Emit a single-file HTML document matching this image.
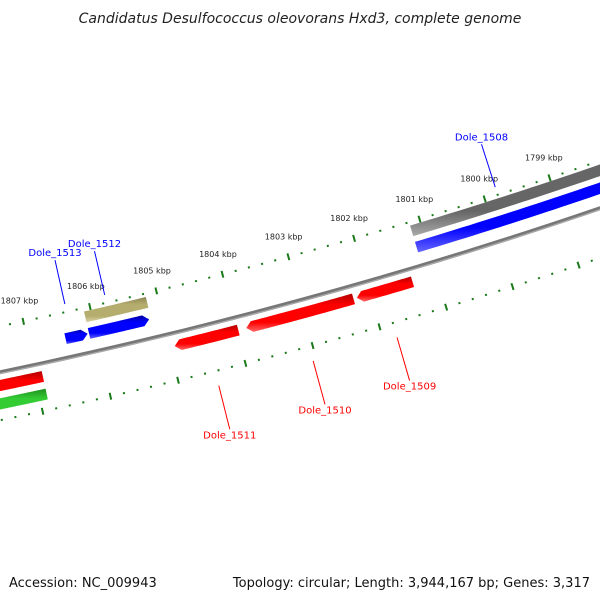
<!DOCTYPE html>
<html><head><meta charset="utf-8"><style>
body{margin:0;background:#fff}
svg{display:block;font-family:"DejaVu Sans","Liberation Sans",sans-serif}
</style></head><body>
<svg id="c" width="600" height="600" viewBox="0 0 600 600">
<defs>
<linearGradient id="gRed" x1="0" y1="0" x2="0" y2="1"><stop offset="0" stop-color="#b00000"/><stop offset="0.3" stop-color="#ff0000"/><stop offset="0.75" stop-color="#ff0000"/><stop offset="1" stop-color="#ff6666"/></linearGradient>
<linearGradient id="gBlue" x1="0" y1="0" x2="0" y2="1"><stop offset="0" stop-color="#0000a0"/><stop offset="0.3" stop-color="#0000ff"/><stop offset="0.75" stop-color="#0000ff"/><stop offset="1" stop-color="#6666ff"/></linearGradient>
<linearGradient id="gGreen" x1="0" y1="0" x2="0" y2="1"><stop offset="0" stop-color="#1f8f1f"/><stop offset="0.3" stop-color="#33cc33"/><stop offset="0.75" stop-color="#33cc33"/><stop offset="1" stop-color="#88e088"/></linearGradient>
<linearGradient id="gKhaki" x1="0" y1="0" x2="0" y2="1"><stop offset="0" stop-color="#8a8450"/><stop offset="0.3" stop-color="#b5ad6e"/><stop offset="0.75" stop-color="#b5ad6e"/><stop offset="1" stop-color="#d8d3a6"/></linearGradient>
<linearGradient id="gGray" x1="0" y1="0" x2="0" y2="1"><stop offset="0" stop-color="#444"/><stop offset="0.3" stop-color="#666"/><stop offset="0.75" stop-color="#666"/><stop offset="1" stop-color="#aaa"/></linearGradient>
</defs>
<text x="300" y="23" text-anchor="middle" font-size="14" font-style="italic" fill="#222">Candidatus Desulfococcus oleovorans Hxd3, complete genome</text>
<g id="ticks"></g><g id="bb"></g><g id="feat"></g><g id="lbl"></g>
<text x="9" y="587" font-size="13" fill="#111">Accession: NC_009943</text>
<text x="590" y="587" text-anchor="end" font-size="13" fill="#111">Topology: circular; Length: 3,944,167 bp; Genes: 3,317</text>
</svg>
<script>
const tickKbp=[1799,1800,1801,1802,1803,1804,1805,1806,1807];
const tickLabels=["1799 kbp","1800 kbp","1801 kbp","1802 kbp","1803 kbp","1804 kbp","1805 kbp","1806 kbp","1807 kbp"];
const featStart=[1806.45,1806.1,1806.1,1801.16,1801.16,1804.93,1803.86,1802.2,1808.5,1808.5];
const featEnd=[1806.12,1805.2,1805.17,1797.0,1797.0,1803.98,1802.25,1801.36,1806.89,1806.89];
const featTrack=["fwd","fwd","fwd2","fwd2","fwd","rev","rev","rev","rev","rev2"];
const featColor=["gBlue","gBlue","gKhaki","gGray","gBlue","gRed","gRed","gRed","gRed","gGreen"];
const featArrow=["right","right","none","none","none","left","left","left","none","none"];
const geneNames=["Dole_1513","Dole_1512","Dole_1508","Dole_1511","Dole_1510","Dole_1509"];
const genePos=[1806.35,1805.75,1799.8,1804.45,1803.05,1801.8];
const geneSide=["out","out","out","in","in","in"];
const geneColor=["#0000ff","#0000ff","#0000ff","#ff0000","#ff0000","#ff0000"];
const NS="http://www.w3.org/2000/svg";
const cx=-1020,cy=-4541,R=5018;
const trackR={fwd:4999,fwd2:4982,rev:5031,rev2:5049};
function ang(k){return (77.89-(1807-k)*0.786)*Math.PI/180;}
function pt(r,k){const a=ang(k);return [cx+r*Math.cos(a),cy+r*Math.sin(a)];}
function mk(tag,attrs,parent){const e=document.createElementNS(NS,tag);for(const k in attrs)e.setAttribute(k,attrs[k]);parent.appendChild(e);return e;}
function arcD(r,k1,k2){let d="";const n=40;for(let i=0;i<=n;i++){const p=pt(r,k1+(k2-k1)*i/n);d+=(i?"L":"M")+p[0].toFixed(2)+" "+p[1].toFixed(2);}return d;}
// backbone
const bb=document.getElementById('bb');
let e=mk('path',{d:arcD(R,1810,1796),stroke:'#777',"stroke-width":4,fill:'none'},bb);

e=mk('path',{d:arcD(R+1.3,1810,1796),stroke:'#aaa',"stroke-width":1.3,fill:'none'},bb);

// ticks
const tg=document.getElementById('ticks');
[4973,5065].forEach(function(rr,ri){
  for(let s=17960;s<=18100;s+=2){const k=s/10;const major=(s%10===0);
    const len=major?3.5:1;const a=pt(rr-len,k),b=pt(rr+len,k);
    const l=mk('line',{x1:a[0],y1:a[1],x2:b[0],y2:b[1],stroke:'#1a7a1a',"stroke-width":2},tg);
    
    }
});
tickKbp.forEach(function(k,i){const p=pt(4955,k);
  const t=mk('text',{x:p[0],y:p[1],"text-anchor":"middle","font-size":"8",fill:'#222'},tg);
  t.textContent=tickLabels[i];
  
  });
// features
const fg=document.getElementById('feat');
featStart.forEach(function(s,i){const en=featEnd[i];const r=trackR[featTrack[i]];const h=5.5;
  const hk=6/R*180/Math.PI/0.786; let d="";const n=40;
  let k1=s,k2=en; // s > en (left to right)
  const pts=[];
  let a1=k1,a2=k2;
  if(featArrow[i]==='left')a1=k1-hk; if(featArrow[i]==='right')a2=k2+hk;
  for(let j=0;j<=n;j++){pts.push(pt(r-h,a1+(a2-a1)*j/n));}
  if(featArrow[i]==='right')pts.push(pt(r,k2));
  for(let j=n;j>=0;j--){pts.push(pt(r+h,a1+(a2-a1)*j/n));}
  if(featArrow[i]==='left')pts.push(pt(r,k1));
  const p=mk('polygon',{points:pts.map(q=>q[0].toFixed(2)+","+q[1].toFixed(2)).join(" "),fill:'url(#'+featColor[i]+')'},fg);
  
  });
// gene labels
const lg=document.getElementById('lbl');
geneNames.forEach(function(nm,i){const k=genePos[i];
  const r0=geneSide[i]==='out'?4965:5080, r1=geneSide[i]==='out'?4920:5125;
  const a=pt(r0,k),b=pt(r1,k);
  const l=mk('line',{x1:a[0],y1:a[1],x2:b[0],y2:b[1],stroke:geneColor[i],"stroke-width":1},lg);
  
  
  const ty=geneSide[i]==='out'?b[1]-4:b[1]+9;
  const t=mk('text',{x:b[0],y:ty,"text-anchor":"middle","font-size":"10",fill:geneColor[i]},lg);
  t.textContent=nm;
  
  });
</script>
</body></html>
